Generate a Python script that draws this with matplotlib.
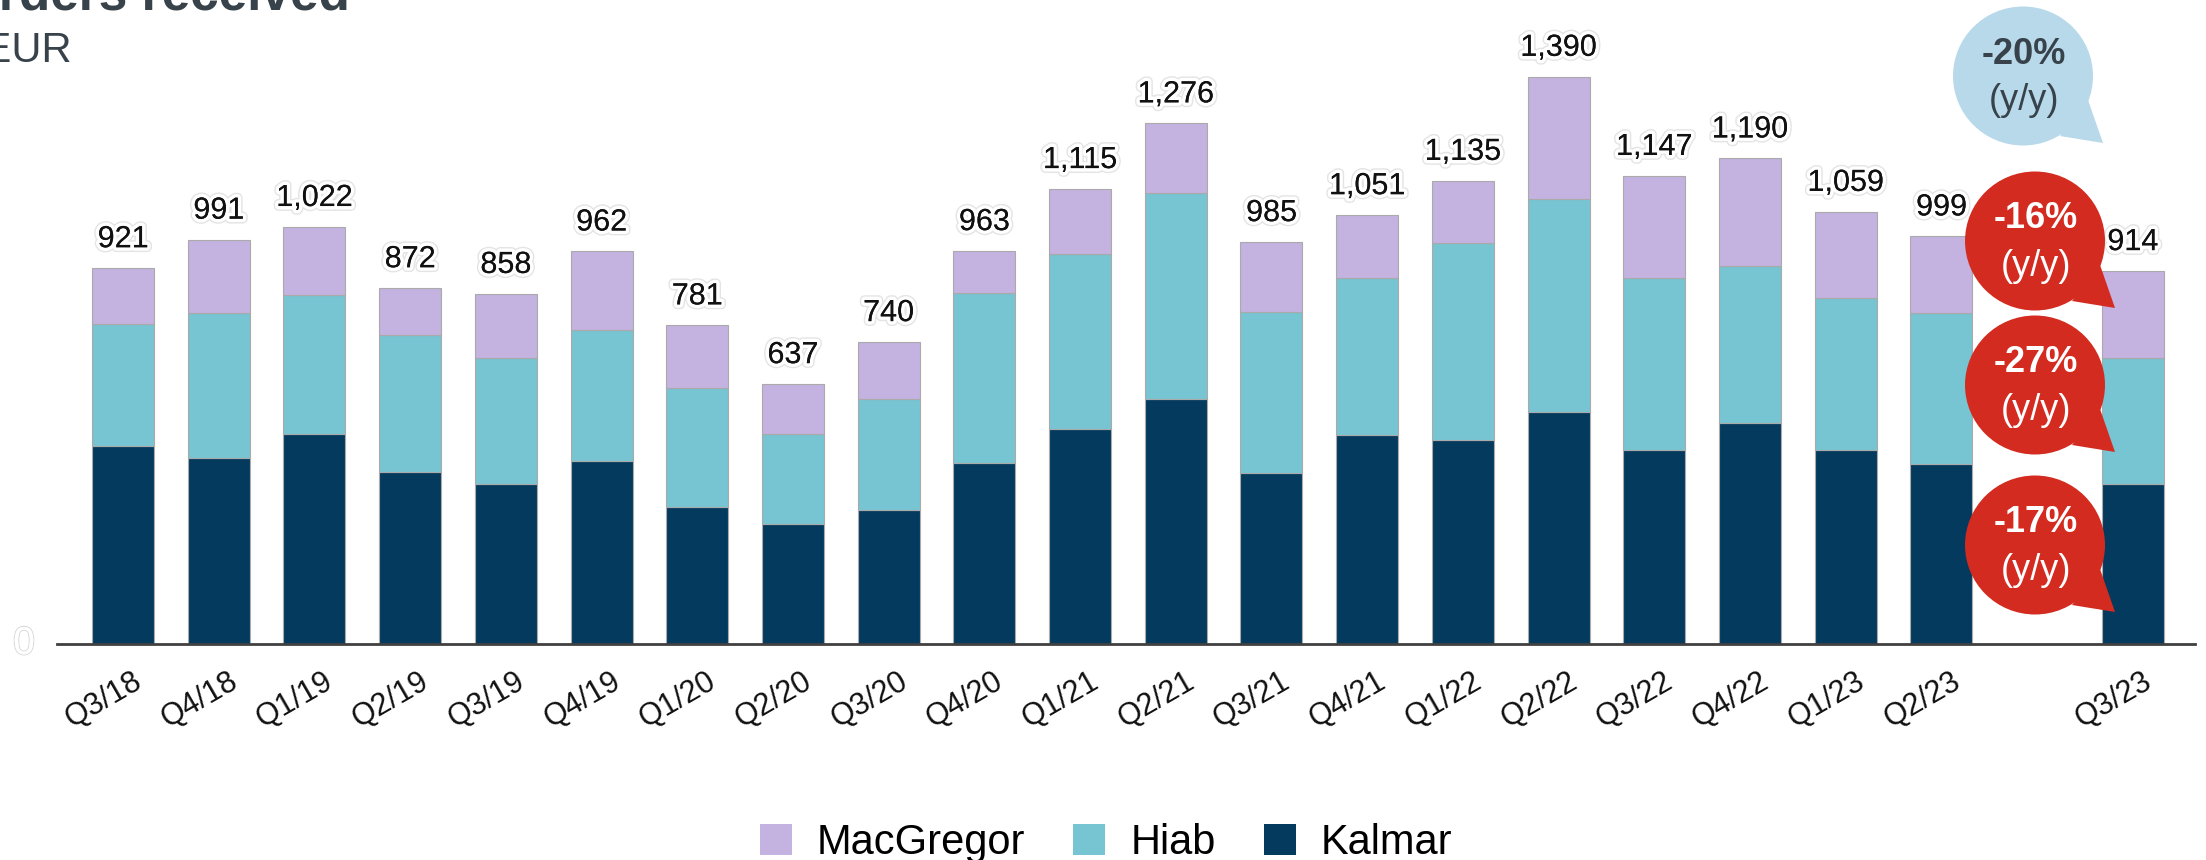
import matplotlib
matplotlib.use('Agg')
import matplotlib.pyplot as plt
import matplotlib.patheffects as pe
from matplotlib.patches import Ellipse, Polygon, Patch
from matplotlib.transforms import ScaledTranslation

plt.rcParams['font.family'] = ['Liberation Sans', 'DejaVu Sans']

# 数据（MEUR）
quarters = ['Q3/18', 'Q4/18', 'Q1/19', 'Q2/19', 'Q3/19', 'Q4/19', 'Q1/20', 'Q2/20',
            'Q3/20', 'Q4/20', 'Q1/21', 'Q2/21', 'Q3/21', 'Q4/21', 'Q1/22', 'Q2/22',
            'Q3/22', 'Q4/22', 'Q1/23', 'Q2/23', 'Q3/23']
totals = [921, 991, 1022, 872, 858, 962, 781, 637, 740, 963, 1115, 1276, 985, 1051,
          1135, 1390, 1147, 1190, 1059, 999, 914]
kalmar = [486, 455, 514, 421, 393, 449, 335, 293, 328, 444, 528, 600, 419, 513,
          500, 569, 476, 542, 476, 442, 393]
hiab = [297, 355, 342, 335, 307, 321, 293, 221, 273, 416, 428, 504, 394, 383,
        483, 521, 421, 383, 373, 369, 307]
macgregor = [138, 181, 166, 116, 158, 192, 153, 123, 139, 103, 159, 172, 172, 155,
             152, 300, 250, 265, 210, 188, 214]
yoy_total = '-20%'
yoy_segments = ['-16%', '-27%', '-17%']   # MacGregor, Hiab, Kalmar

C_KALMAR = '#043a5e'
C_HIAB = '#77c4d3'
C_MAC = '#c4b2e0'
C_TEXT = '#37424a'
C_RED = '#d42b20'
C_LIGHT = '#b8d9ea'

W, H = 2206, 860
fig = plt.figure(figsize=(W / 100, H / 100), dpi=100)

# 主图区域（像素换算）
x0, x1, base = 57, 2195, 644
ax = fig.add_axes([x0 / W, 1 - base / H, (x1 - x0) / W, base / H])

# Q3/23 与前面留一个空位
slots = list(range(20)) + [21]
bw = 0.648
edge = dict(edgecolor='#aaaaaa', linewidth=0.8)
ax.bar(slots, kalmar, bw, color=C_KALMAR, **edge)
bottom2 = [k + h for k, h in zip(kalmar, hiab)]
ax.bar(slots, hiab, bw, bottom=kalmar, color=C_HIAB, **edge)
ax.bar(slots, macgregor, bw, bottom=bottom2, color=C_MAC, **edge)

halo = [pe.withStroke(linewidth=7, foreground='#e4e4e4'),
        pe.withStroke(linewidth=5, foreground='white'), pe.Normal()]
for s, t in zip(slots, totals):
    ax.annotate(f'{t:,}', (s, t), xytext=(0, 10), textcoords='offset points',
                ha='center', va='bottom', fontsize=22, color='#111111',
                path_effects=halo)

ax.set_xlim(-0.69, 21.65)
ax.set_ylim(0, 1578)
for sp in ['top', 'right', 'left']:
    ax.spines[sp].set_visible(False)
ax.spines['bottom'].set_color('#404040')
ax.spines['bottom'].set_linewidth(2)
ax.set_yticks([])
ax.set_xticks(slots)
ax.set_xticklabels(quarters, rotation=30, ha='right', va='top',
                   rotation_mode='anchor', fontsize=22, color='#111111')
ax.tick_params(axis='x', length=0, pad=16)
offset = ScaledTranslation(0.09, 0, fig.dpi_scale_trans)
for lab in ax.get_xticklabels():
    lab.set_transform(lab.get_transform() + offset)

# 几乎不可见的 "0"
fig.text(24 / W, 1 - 644 / H, '0', ha='center', va='center', fontsize=28,
         color='white', path_effects=[pe.withStroke(linewidth=1.5, foreground='#d8d8d8'),
                                      pe.Normal()])

# 标题（被裁切）
fig.text(350 / W, 1 - 10 / H, 'Orders received', ha='right', va='baseline',
         fontsize=37, fontweight='bold', color=C_TEXT)
fig.text(72 / W, 1 - 62 / H, 'MEUR', ha='right', va='baseline',
         fontsize=30, color=C_TEXT)

# 对话气泡
ov = fig.add_axes([0, 0, 1, 1], zorder=5)
ov.set_xlim(0, W)
ov.set_ylim(H, 0)
ov.axis('off')


def bubble(cx, cy, color, top, txt_color):
    ov.add_patch(Ellipse((cx, cy), 140, 139, color=color, lw=0))
    ov.add_patch(Polygon([(cx + 65, cy + 24), (cx + 80, cy + 67), (cx + 37, cy + 60)],
                         closed=True, color=color, lw=0))
    ov.text(cx + 1, cy - 22, top, ha='center', va='center', fontsize=26,
            fontweight='bold', color=txt_color)
    ov.text(cx + 1, cy + 25, '(y/y)', ha='center', va='center', fontsize=26,
            color=txt_color)


bubble(2023, 76, C_LIGHT, yoy_total, C_TEXT)
for cy, val in zip([241, 385, 545], yoy_segments):
    bubble(2035, cy, C_RED, val, 'white')

# 图例
handles = [Patch(facecolor=C_MAC, edgecolor='none', label='MacGregor'),
           Patch(facecolor=C_HIAB, edgecolor='none', label='Hiab'),
           Patch(facecolor=C_KALMAR, edgecolor='none', label='Kalmar')]
fig.legend(handles=handles, loc='center', bbox_to_anchor=(1106 / W, 1 - 843 / H),
           ncol=3, frameon=False, fontsize=30, handlelength=0.77, handleheight=0.77,
           handletextpad=0.6, columnspacing=1.15, borderpad=0)

fig.savefig('out.png', dpi=100)
plt.close()
